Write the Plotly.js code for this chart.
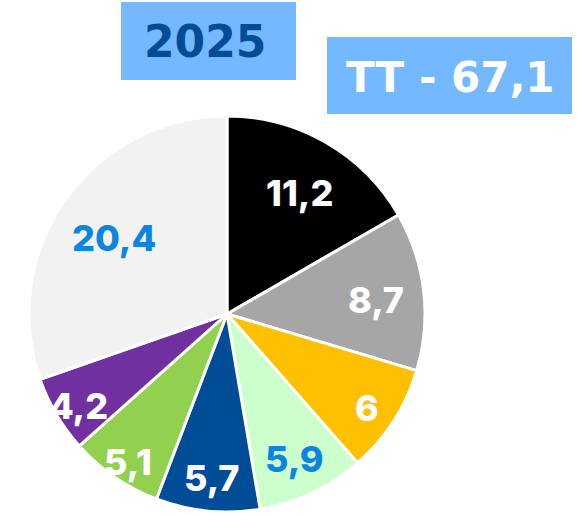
<!DOCTYPE html>
<html>
<head>
<meta charset="utf-8">
<script src="https://cdn.plot.ly/plotly-3.0.1.min.js"></script>
<style>html,body{margin:0;padding:0;background:#fff;}#chart{width:577px;height:515px;}</style>
</head>
<body>
<div id="chart"></div>
<script>
// Data
const categories = ["A", "B", "C", "D", "E", "F", "G", "H"];
const values = [11.2, 8.7, 6, 5.9, 5.7, 5.1, 4.2, 20.4];
const valueLabels = ["11,2", "8,7", "6", "5,9", "5,7", "5,1", "4,2", "20,4"];
const yearTitle = "2025";
const totalTitle = "TT - 67,1";

// Styles
const sliceColors = ["#000000", "#a6a6a6", "#ffc000", "#ccffcc", "#004c97", "#92d050", "#7030a0", "#f2f2f2"];
const labelColors = ["#ffffff", "#ffffff", "#ffffff", "#0b85e0", "#ffffff", "#ffffff", "#ffffff", "#0b85e0"];
const labelRadius = [0.73, 0.76, 0.84, 0.79, 0.81, 0.88, 0.87, 0.70];

const W = 577, H = 515;
const cx = 227, cy = 314, R = 198;
const FONT = "Inter, 'Open Sans', sans-serif";
const TITLE_FONT = "'DejaVu Sans', Inter, sans-serif";

const total = values.reduce((a, b) => a + b, 0);
let cum = 0;
const annotations = [];
values.forEach((v, i) => {
  const mid = (cum + v / 2) / total * 2 * Math.PI;
  cum += v;
  const rr = R * labelRadius[i];
  const px = cx + rr * Math.sin(mid);
  const py = cy - rr * Math.cos(mid);
  annotations.push({
    x: px / W, y: 1 - py / H, xref: "paper", yref: "paper",
    text: valueLabels[i], showarrow: false,
    xanchor: "center", yanchor: "middle", yshift: -4,
    font: {family: FONT, size: 36, color: labelColors[i], weight: 800}
  });
});

annotations.push({
  x: 205 / W, y: 1 - 41 / H, xref: "paper", yref: "paper",
  text: yearTitle, showarrow: false, xanchor: "center", yanchor: "middle",
  font: {family: TITLE_FONT, size: 44, color: "#004c97", weight: 700}
});
annotations.push({
  x: 450 / W, y: 1 - 77 / H, xref: "paper", yref: "paper",
  text: totalTitle, showarrow: false, xanchor: "center", yanchor: "middle",
  font: {family: TITLE_FONT, size: 42, color: "#ffffff", weight: 700}
});

const data = [{
  type: "pie",
  labels: categories,
  values: values,
  sort: false,
  direction: "clockwise",
  rotation: 0,
  textinfo: "none",
  hoverinfo: "skip",
  marker: {colors: sliceColors, line: {color: "#ffffff", width: 3}},
  domain: {x: [(cx - R) / W, (cx + R) / W], y: [1 - (cy + R) / H, 1 - (cy - R) / H]},
  showlegend: false
}];

const layout = {
  width: W, height: H,
  margin: {l: 0, r: 0, t: 0, b: 0},
  paper_bgcolor: "#ffffff",
  showlegend: false,
  shapes: [
    {type: "rect", xref: "paper", yref: "paper", x0: 121 / W, x1: 296 / W, y0: 1 - 80 / H, y1: 1 - 2 / H, fillcolor: "#74b8ff", line: {width: 0}, layer: "below"},
    {type: "rect", xref: "paper", yref: "paper", x0: 327 / W, x1: 572 / W, y0: 1 - 114 / H, y1: 1 - 37 / H, fillcolor: "#74b8ff", line: {width: 0}, layer: "below"}
  ],
  annotations: annotations
};

Plotly.newPlot("chart", data, layout, {staticPlot: true, displayModeBar: false});
</script>
</body>
</html>
